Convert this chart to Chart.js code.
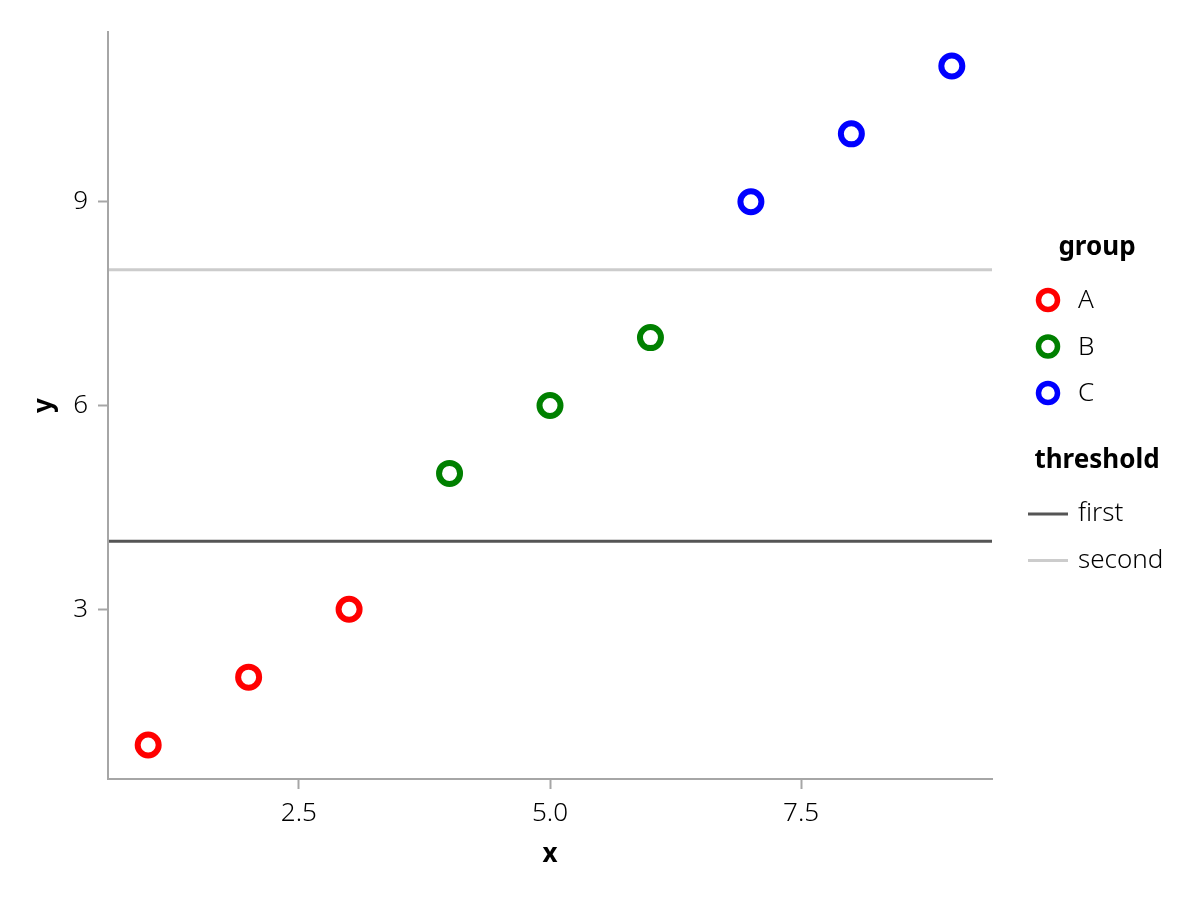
<!DOCTYPE html>
<html>
<head>
<meta charset="utf-8">
<title>Groups and thresholds</title>
<script src="https://cdn.jsdelivr.net/npm/chart.js@4.4.1/dist/chart.umd.min.js"></script>
<style>
  html, body { margin: 0; padding: 0; background: #fff; }
  #wrap { width: 1200px; height: 900px; position: relative; }
</style>
</head>
<body>
<div id="wrap"><canvas id="scatterChart"></canvas></div>
<script>
// Data
const groupNames = ["A", "B", "C"];
const groupColors = ["#ff0000", "#008000", "#0000ff"];
const groupX = [[1, 2, 3], [4, 5, 6], [7, 8, 9]];
const groupY = [[1, 2, 3], [5, 6, 7], [9, 10, 11]];

const thresholdNames = ["first", "second"];
const thresholdValues = [4, 8];
const thresholdColors = ["#555555", "#cccccc"];

const xTicks = [2.5, 5.0, 7.5];
const yTicks = [3, 6, 9];
const xRange = [0.6, 9.4];
const yRange = [0.5, 11.5];

const fontFamily = "'Noto Sans', 'Open Sans', sans-serif";
const fontSize = 26;
const axisGray = "#a6a6a6";

document.addEventListener("DOMContentLoaded", function () {
  Chart.defaults.font.family = fontFamily;
  Chart.defaults.color = "#000";

  // horizontal threshold lines across the plot area
  const thresholdPlugin = {
    id: "thresholds",
    beforeDatasetsDraw(chart) {
      const { ctx, chartArea, scales } = chart;
      ctx.save();
      thresholdValues.forEach((v, i) => {
        const py = scales.y.getPixelForValue(v);
        ctx.strokeStyle = thresholdColors[i];
        ctx.lineWidth = 3;
        ctx.beginPath();
        ctx.moveTo(chartArea.left + 1, py);
        ctx.lineTo(chartArea.right, py);
        ctx.stroke();
      });
      ctx.restore();
    },
  };

  // legend drawn on the right, two blocks
  const legendPlugin = {
    id: "sideLegend",
    afterDraw(chart) {
      const ctx = chart.ctx;
      const cx = 1097;
      ctx.save();
      ctx.textBaseline = "middle";

      ctx.font = "bold " + fontSize + "px " + fontFamily;
      ctx.fillStyle = "#000";
      ctx.textAlign = "center";
      ctx.fillText("group", cx, 248);

      ctx.font = "300 " + fontSize + "px " + fontFamily;
      ctx.textAlign = "left";
      groupNames.forEach((name, i) => {
        const ly = 300 + i * 46.5;
        ctx.beginPath();
        ctx.arc(1048, ly, 9.5, 0, Math.PI * 2);
        ctx.lineWidth = 5.5;
        ctx.strokeStyle = groupColors[i];
        ctx.stroke();
        ctx.fillStyle = "#000";
        ctx.fillText(name, 1078, ly + 1);
      });

      ctx.font = "bold " + fontSize + "px " + fontFamily;
      ctx.textAlign = "center";
      ctx.fillText("threshold", cx, 461);

      ctx.font = "300 " + fontSize + "px " + fontFamily;
      ctx.textAlign = "left";
      thresholdNames.forEach((name, i) => {
        const ly = 514 + i * 46.5;
        ctx.beginPath();
        ctx.moveTo(1028, ly);
        ctx.lineTo(1068, ly);
        ctx.lineWidth = 3;
        ctx.strokeStyle = thresholdColors[i];
        ctx.stroke();
        ctx.fillStyle = "#000";
        ctx.fillText(name, 1078, ly);
      });
      ctx.restore();
    },
  };

  const datasets = groupNames.map((name, i) => ({
    label: name,
    data: groupX[i].map((x, j) => ({ x: x, y: groupY[i][j] })),
    borderColor: groupColors[i],
    backgroundColor: "#ffffff",
    pointRadius: 10.5,
    pointBorderWidth: 6,
    pointHoverRadius: 10.5,
  }));

  new Chart(document.getElementById("scatterChart"), {
    type: "scatter",
    data: { datasets: datasets },
    options: {
      responsive: true,
      maintainAspectRatio: false,
      animation: false,
      layout: {
        padding: { left: 0, top: 32, right: 208, bottom: 0 },
      },
      scales: {
        x: {
          type: "linear",
          min: xRange[0],
          max: xRange[1],
          afterBuildTicks: (scale) => {
            scale.ticks = xTicks.map((v) => ({ value: v }));
          },
          afterFit: (scale) => {
            scale.height = 121;
          },
          ticks: {
            callback: (v) => Number(v).toFixed(1),
            font: { size: fontSize, weight: "300" },
            color: "#000",
            padding: 9,
            maxRotation: 0,
          },
          grid: {
            display: true,
            drawOnChartArea: false,
            drawTicks: true,
            tickLength: 10,
            tickWidth: 2,
            tickColor: axisGray,
          },
          border: { display: true, color: axisGray, width: 2 },
          title: {
            display: true,
            text: "x",
            font: { size: fontSize, weight: "bold" },
            color: "#000",
            padding: { top: 0, bottom: 30 },
          },
        },
        y: {
          type: "linear",
          min: yRange[0],
          max: yRange[1],
          afterBuildTicks: (scale) => {
            scale.ticks = yTicks.map((v) => ({ value: v }));
          },
          afterFit: (scale) => {
            scale.width = 108;
          },
          ticks: {
            font: { size: fontSize, weight: "300" },
            color: "#000",
            padding: 10,
          },
          grid: {
            display: true,
            drawOnChartArea: false,
            drawTicks: true,
            tickLength: 10,
            tickWidth: 2,
            tickColor: axisGray,
          },
          border: { display: true, color: axisGray, width: 2 },
          title: {
            display: true,
            text: "y",
            font: { size: fontSize, weight: "bold" },
            color: "#000",
            padding: { top: 29, bottom: 0 },
          },
        },
      },
      plugins: {
        legend: { display: false },
        tooltip: { enabled: false },
      },
    },
    plugins: [thresholdPlugin, legendPlugin],
  });
});
</script>
</body>
</html>
